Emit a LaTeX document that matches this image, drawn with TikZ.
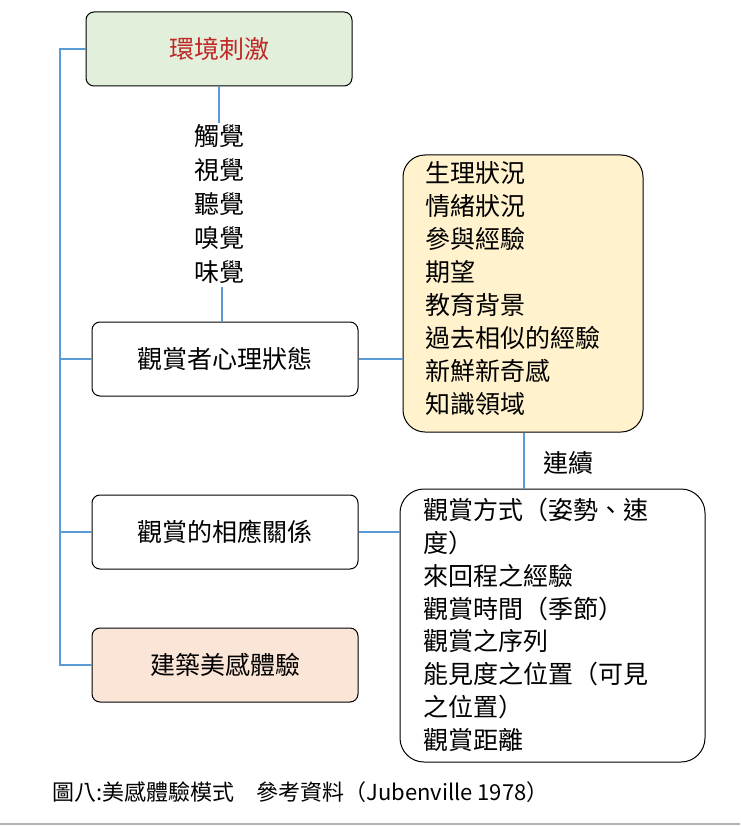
\documentclass[tikz,border=0pt]{standalone}
\usepackage{fontspec}
\setmainfont{Noto Sans CJK TC}
\definecolor{ln}{HTML}{5B9BD5}
\begin{document}
\begin{tikzpicture}[x=1pt,y=-1pt,
  box/.style={draw=black,line width=1pt,rounded corners=8pt,minimum width=266pt,minimum height=74pt,font=\fontsize{25}{27}\selectfont},
  conn/.style={draw=ln,line width=1.6pt},
  lst/.style={align=left,font=\fontsize{25}{33}\selectfont,anchor=north west,inner sep=0pt}]
\useasboundingbox (0,0) rectangle (740,826);
\node[box,fill={rgb,255:red,226;green,239;blue,218},text={rgb,255:red,192;green,40;blue,40}] (env) at (219,49) {環境刺激};
\node[box,fill=white] (psy) at (225,359) {觀賞者心理狀態};
\node[box,fill=white] (rel) at (225,532) {觀賞的相應關係};
\node[box,fill={rgb,255:red,251;green,229;blue,214}] (exp) at (225,665) {建築美感體驗};
\node[align=center,font=\fontsize{25}{34}\selectfont,inner sep=0pt] (sense) at (219,204) {觸覺\\視覺\\聽覺\\嗅覺\\味覺};
\node[draw=black,line width=1pt,rounded corners=22pt,fill={rgb,255:red,255;green,242;blue,204},minimum width=240pt,minimum height=277pt] (yb) at (523,293.5) {};
\node[lst] at (425,161) {生理狀況\\情緒狀況\\參與經驗\\期望\\教育背景\\過去相似的經驗\\新鮮新奇感\\知識領域};
\node[draw=black,line width=1pt,rounded corners=24pt,fill=white,minimum width=305pt,minimum height=273pt] (wb) at (552.5,625.5) {};
\node[lst,font=\fontsize{25}{32.8}\selectfont] at (423,498) {觀賞方式（姿勢、速\\度）\\來回程之經驗\\觀賞時間（季節）\\觀賞之序列\\能見度之位置（可見\\之位置）\\觀賞距離};
\node[font=\fontsize{25}{27}\selectfont] (cont) at (568,463) {連續};
\coordinate (L1) at (60,49);
\coordinate (L4) at (60,665);
\coordinate (L2) at (60,359);
\coordinate (L3) at (60,532);
\draw[conn] (env.west) -- (L1) -- (L4) -- (exp.west);
\draw[conn] (L2) -- (psy.west);
\draw[conn] (L3) -- (rel.west);
\draw[conn] (env.south) -- (219,123);
\draw[conn] (222,287) -- (222,322);
\draw[conn] (psy.east) -- (yb.west |- psy.east);
\draw[conn] (rel.east) -- (wb.west |- rel.east);
\draw[conn] (yb.south -| 524,0) -- (wb.north -| 524,0);
\node[anchor=west,inner sep=0pt,font=\fontsize{22}{24}\selectfont] (cap) at (52,792) {圖八:美感體驗模式\quad 參考資料（Jubenville 1978）};
\draw[gray!60,line width=2pt] (0,824) -- (740,824);
\end{tikzpicture}
\end{document}
